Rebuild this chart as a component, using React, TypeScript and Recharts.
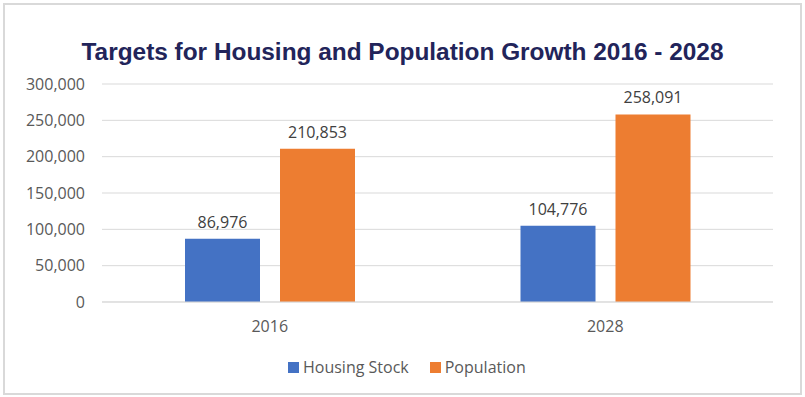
import { BarChart, Bar, XAxis, YAxis, CartesianGrid, Legend, LabelList } from 'recharts'

const years = ['2016', '2028']
const housingStock = [86976, 104776]
const population = [210853, 258091]
const yTicks = [0, 50000, 100000, 150000, 200000, 250000, 300000]

const data = years.map((year, i) => ({
  year,
  housing: housingStock[i],
  population: population[i],
}))

const font = '"Open Sans", sans-serif'
const fmt = (v: number) => Number(v).toLocaleString('en-US')

function LegendContent() {
  const items = [
    { label: 'Housing Stock', color: '#4472C4' },
    { label: 'Population', color: '#ED7D31' },
  ]
  return (
    <div style={{ display: 'flex', paddingLeft: 288, height: 24, alignItems: 'center' }}>
      {items.map((it) => (
        <div key={it.label} style={{ display: 'flex', alignItems: 'center', marginRight: 21 }}>
          <span style={{ width: 11, height: 11, background: it.color, marginRight: 4, display: 'inline-block' }} />
          <span style={{ fontFamily: font, fontSize: 16, color: '#595959' }}>{it.label}</span>
        </div>
      ))}
    </div>
  )
}

export default function App() {
  return (
    <div style={{ position: 'absolute', left: 0, top: 0, width: 805, height: 397, background: '#fff' }}>
      <div
        style={{
          position: 'absolute',
          left: 3,
          top: 3,
          width: 799,
          height: 392,
          boxSizing: 'border-box',
          border: '2px solid #d9d9d9',
        }}
      />
      <div
        style={{
          position: 'absolute',
          left: 0,
          top: 40,
          width: 805,
          textAlign: 'center',
          fontFamily: '"Liberation Sans", Arial, sans-serif',
          fontWeight: 'bold',
          fontSize: 24.4,
          lineHeight: '24px',
          color: '#22245a',
        }}
      >
        Targets for Housing and Population Growth 2016 - 2028
      </div>
      <div style={{ position: 'absolute', left: 0, top: 0 }}>
        <BarChart
          width={805}
          height={397}
          data={data}
          margin={{ top: 84, right: 32, left: 0, bottom: 18 }}
          barSize={75}
          barGap={20}
        >
          <CartesianGrid vertical={false} stroke="#d9d9d9" />
          <XAxis
            dataKey="year"
            axisLine={{ stroke: '#d9d9d9' }}
            tickLine={false}
            tickSize={0}
            tickMargin={19}
            height={53}
            tick={{ fontFamily: font, fontSize: 16, fill: '#595959' }}
          />
          <YAxis
            domain={[0, 300000]}
            ticks={yTicks}
            tickFormatter={fmt}
            axisLine={false}
            tickLine={false}
            tickSize={0}
            tickMargin={17}
            width={102}
            tick={{ fontFamily: font, fontSize: 16, fill: '#595959' }}
          />
          <Legend verticalAlign="bottom" height={24} wrapperStyle={{ left: 0, width: 805 }} content={<LegendContent />} />
          <Bar dataKey="housing" name="Housing Stock" fill="#4472C4" isAnimationActive={false}>
            <LabelList dataKey="housing" position="top" offset={11} formatter={fmt} style={{ fontFamily: font, fontSize: 16, fill: '#404040' }} />
          </Bar>
          <Bar dataKey="population" name="Population" fill="#ED7D31" isAnimationActive={false}>
            <LabelList dataKey="population" position="top" offset={11} formatter={fmt} style={{ fontFamily: font, fontSize: 16, fill: '#404040' }} />
          </Bar>
        </BarChart>
      </div>
    </div>
  )
}
